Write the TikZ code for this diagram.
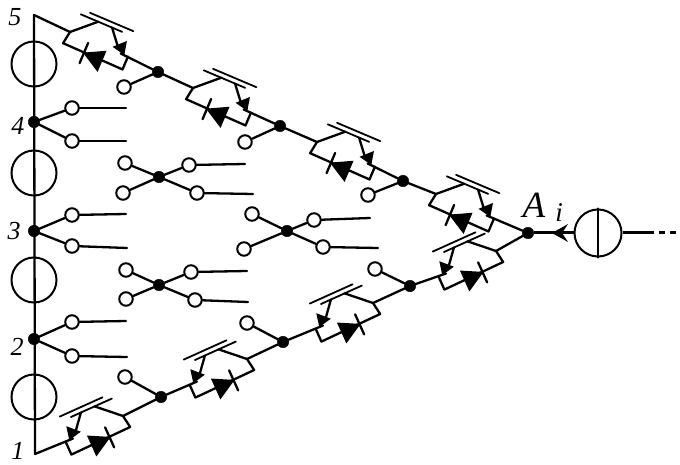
\documentclass[tikz,border=0pt]{standalone}
\usepackage{fontspec}
\setmainfont{Liberation Serif}
\tikzset{
  wire/.style={line width=2.3pt,line cap=round,line join=round},
  plate/.style={line width=1.8pt,line cap=round},
  dot/.style={circle,fill=black,draw=black,inner sep=0pt,minimum size=11.5pt},
  term/.style={circle,fill=white,draw=black,line width=2pt,inner sep=0pt,minimum size=13.5pt},
  gen/.style={circle,draw=black,line width=2pt,inner sep=0pt,minimum size=45pt},
  num/.style={font=\itshape\fontsize{26}{26}\selectfont,inner sep=0pt},
}
% #1 name, #2 #3 origin, #4 #5 unit vector along, #6 #7 unit vector across
\newcommand{\thy}[7]{%
  \begin{scope}[shift={(#2,#3)},x={(#4pt,#5pt)},y={(#6pt,#7pt)}]
    \coordinate (#1-in) at (0,0);
    \coordinate (#1-out) at (55,0);
    \coordinate (#1-g) at (22,-20.5);
    \draw[wire] (#1-in) -- (#1-g);
    \draw[wire] (#1-in) -- (-2,13) -- (63,14) -- (63,0);
    \draw[plate] (3,-20.5) -- (48,-20.5);
    \draw[plate] (11,-25.5) -- (58,-25.5);
    \draw[wire] (37,-20.5) -- (50,-5);
    \fill (59,0) -- (45,-3) -- (56,-14) -- cycle;
    \fill (20,14) -- (41,3) -- (41,26) -- cycle;
    \draw[wire] (21,3) -- (21,25);
  \end{scope}}
\begin{document}
\begin{tikzpicture}[x=1pt,y=-1pt]
\useasboundingbox (0,0) rectangle (680,465);
% left generators
\coordinate (c5) at (34,15);
\coordinate (c1) at (35,454);
\node[gen] (g1) at (34,64) {};
\node[gen] (g2) at (34,173) {};
\node[gen] (g3) at (34,280) {};
\node[gen] (g4) at (34,397) {};
\draw[wire] (c5) -- (c1);
% dots
\node[dot] (n4) at (34,122) {};
\node[dot] (n3) at (34,231) {};
\node[dot] (n2) at (34,339) {};
\node[dot] (t1) at (158,72) {};
\node[dot] (t2) at (280,126) {};
\node[dot] (t3) at (403,181) {};
\node[dot] (A) at (528,233) {};
\node[dot] (b3) at (410,286) {};
\node[dot] (b2) at (283,342) {};
\node[dot] (b1) at (161,397) {};
\node[dot] (m1) at (159,177) {};
\node[dot] (m2) at (287,231) {};
\node[dot] (m3) at (159,285) {};
% thyristors
\thy{T1}{70}{32}{0.92}{-0.39}{-0.39}{-0.92}
\thy{T2}{193}{88}{0.92}{-0.39}{-0.39}{-0.92}
\thy{T3}{317}{142}{0.92}{-0.39}{-0.39}{-0.92}
\thy{T4}{436}{194}{0.92}{-0.39}{-0.39}{-0.92}
\thy{B1}{123}{416}{-0.91}{-0.41}{0.41}{-0.91}
\thy{B2}{247}{359}{-0.91}{-0.41}{0.41}{-0.91}
\thy{B3}{373}{303}{-0.91}{-0.41}{0.41}{-0.91}
\thy{B4}{496}{251}{-0.91}{-0.41}{0.41}{-0.91}
\draw[wire] (c5) -- (T1-in);
\draw[wire] (T1-out) -- (t1) -- (T2-in);
\draw[wire] (T2-out) -- (t2) -- (T3-in);
\draw[wire] (T3-out) -- (t3) -- (T4-in);
\draw[wire] (T4-out) -- (A) -- (B4-in);
\draw[wire] (B4-out) -- (b3) -- (B3-in);
\draw[wire] (B3-out) -- (b2) -- (B2-in);
\draw[wire] (B2-out) -- (b1) -- (B1-in);
\draw[wire] (B1-out) -- (c1);
% terminals
\foreach \nm/\x/\y/\src in {
  a1/124/87/t1, a2/245/142/t2, a3/368/195/t3,
  a4/125/377/b1, a5/247/323/b2, a6/375/269/b3,
  l1/125/163/m1, l2/123/193/m1, l3/252/214/m2, l4/244/249/m2, l5/126/270/m3, l6/126/299/m3}
  {\node[term] (\nm) at (\x,\y) {}; \draw[wire] (\src) -- (\nm);}
\foreach \nm/\x/\y/\src/\ex/\ey in {
  r1/72/108/n4/126/108, r2/72/141/n4/126/141,
  r3/72/215/n3/126/214, r4/72/246/n3/127/248,
  r5/72/322/n2/126/321, r6/72/356/n2/127/357,
  r7/189/165/m1/245/164, r8/197/193/m1/253/194,
  r9/314/220/m2/370/218, r10/323/247/m2/378/248,
  r11/191/272/m3/247/271, r12/195/300/m3/248/302}
  {\node[term] (\nm) at (\x,\y) {};
   \coordinate (\nm-e) at (\ex,\ey);
   \draw[wire] (\src) -- (\nm);
   \draw[wire] (\nm) -- (\nm-e);}
% source
\node[gen,minimum size=47pt] (G) at (598,233) {};
\draw[wire] (G.north) -- (G.south);
\coordinate (E) at (680,233);
\coordinate (E1) at (648,233);
\draw[line width=3pt] (G) -- (A);
\draw[line width=3pt] (G.east) -- (E1);
\draw[line width=3pt,dash pattern=on 6pt off 5pt] (E1) -- (E);
\coordinate (tip) at (552,233);
\fill (tip) -- (568,224) -- (562,233) -- (568,242) -- cycle;
% labels
\node[num] (L5) at (15,17) {5};
\node[num] (L4) at (18,126) {4};
\node[num] (L3) at (14,231) {3};
\node[num] (L2) at (17,347) {2};
\node[num] (L1) at (18,451) {1};
\node[font=\itshape\fontsize{37}{37}\selectfont,inner sep=0pt] (LA) at (534,205) {A};
\node[font=\itshape\fontsize{27}{27}\selectfont,inner sep=0pt] (Li) at (559,213) {i};
\end{tikzpicture}
\end{document}
